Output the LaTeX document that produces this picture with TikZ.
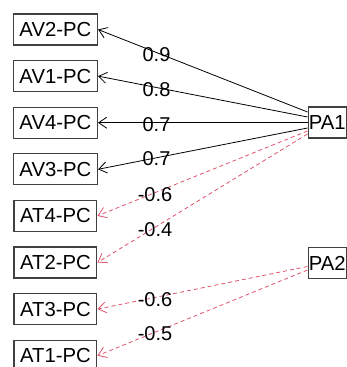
\documentclass[tikz,border=0pt]{standalone}
\usepackage{fontspec}
\setmainfont{Liberation Sans}
\usetikzlibrary{arrows.meta}
\definecolor{rred}{HTML}{DF536B}
\definecolor{boxline}{HTML}{404040}
\tikzset{
  varbox/.style={draw=boxline, line width=1.2pt, inner xsep=6.1pt, inner ysep=0pt,
    minimum height=31pt, font=\fontsize{20.3}{24}\selectfont, anchor=center},
  facbox/.style={varbox, inner xsep=0.8pt, anchor=west},
  lbl/.style={font=\fontsize{20}{24}\selectfont, inner sep=0pt, anchor=center},
  posarrow/.style={draw=black, line width=0.8pt, -{Straight Barb[length=8pt,width=11pt]}},
  negarrow/.style={draw=rred, line width=0.8pt, dash pattern=on 4pt off 3pt,
    -{Straight Barb[length=8pt,width=11pt]}}
}
\begin{document}
\begin{tikzpicture}[x=1pt,y=-1pt]
\useasboundingbox (0,0) rectangle (347,367);
\clip (0,0) rectangle (347,367);
\node[varbox] (AV2) at (55.4,29.5) {AV2-PC};
\node[varbox] (AV1) at (55.4,76.1) {AV1-PC};
\node[varbox] (AV4) at (55.4,122.7) {AV4-PC};
\node[varbox] (AV3) at (55.4,169.3) {AV3-PC};
\node[varbox] (AT4) at (55.4,215.9) {AT4-PC};
\node[varbox] (AT2) at (55.4,262.5) {AT2-PC};
\node[varbox] (AT3) at (55.4,309.1) {AT3-PC};
\node[varbox] (AT1) at (55.4,355.7) {AT1-PC};
\node[facbox] (PA1) at (307.5,122.5) {PA1};
\node[facbox] (PA2) at (307.5,263) {PA2};
\draw[posarrow] ([yshift=10.5pt]PA1.west) -- (AV2.east);
\draw[posarrow] ([yshift=5.5pt]PA1.west) -- (AV1.east);
\draw[posarrow] ([yshift=-0.2pt]PA1.west) -- (AV4.east);
\draw[posarrow] ([yshift=-5.5pt]PA1.west) -- (AV3.east);
\draw[negarrow] ([yshift=-8.5pt]PA1.west) -- (AT4.east);
\draw[negarrow] ([yshift=-11.5pt]PA1.west) -- (AT2.east);
\draw[negarrow] ([yshift=-3.5pt]PA2.west) -- (AT3.east);
\draw[negarrow] ([yshift=-7pt]PA2.west) -- (AT1.east);
\node[lbl] (l1) at (156.5,55) {0.9};
\node[lbl] (l2) at (156.5,90) {0.8};
\node[lbl] (l3) at (156.5,125) {0.7};
\node[lbl] (l4) at (156.5,158.5) {0.7};
\node[lbl] (l5) at (155,194.5) {-0.6};
\node[lbl] (l6) at (155,230) {-0.4};
\node[lbl] (l7) at (155,300) {-0.6};
\node[lbl] (l8) at (155,333.5) {-0.5};
\end{tikzpicture}
\end{document}
